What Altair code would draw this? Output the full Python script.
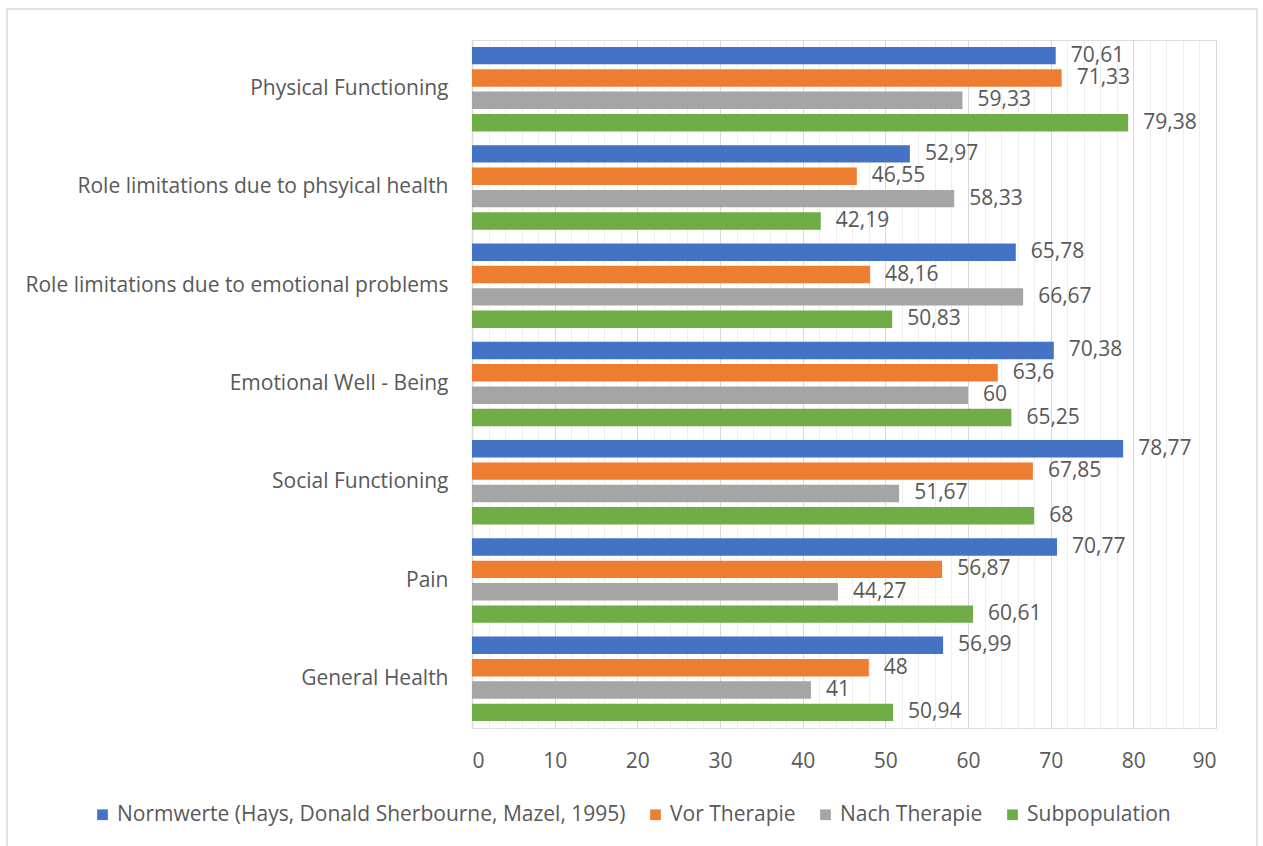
import altair as alt
import pandas as pd

categories = [
    "Physical Functioning",
    "Role limitations due to phsyical health",
    "Role limitations due to emotional problems",
    "Emotional Well - Being",
    "Social Functioning",
    "Pain",
    "General Health",
]
series = [
    "Normwerte (Hays, Donald Sherbourne, Mazel, 1995)",
    "Vor Therapie",
    "Nach Therapie",
    "Subpopulation",
]
normwerte = [70.61, 52.97, 65.78, 70.38, 78.77, 70.77, 56.99]
vor_therapie = [71.33, 46.55, 48.16, 63.6, 67.85, 56.87, 48]
nach_therapie = [59.33, 58.33, 66.67, 60, 51.67, 44.27, 41]
subpopulation = [79.38, 42.19, 50.83, 65.25, 68, 60.61, 50.94]
colors = ["#4472C4", "#ED7D31", "#A5A5A5", "#70AD47"]

rows = []
for s, vals in zip(series, [normwerte, vor_therapie, nach_therapie, subpopulation]):
    for c, v in zip(categories, vals):
        rows.append({"Kategorie": c, "Serie": s, "Wert": v,
                     "Label": f"{v:g}".replace(".", ",")})
df = pd.DataFrame(rows)

FONT = "Open Sans"
TXT = "#595959"
FS = 21

y_enc = alt.Y("Kategorie:N", sort=categories,
              scale=alt.Scale(paddingInner=0.14, paddingOuter=0.07),
              axis=alt.Axis(title=None, ticks=False, domain=True, domainColor="#D9D9D9",
                            domainWidth=1.5, labelPadding=24, labelFontSize=FS,
                            labelFont=FONT, labelColor=TXT, labelLimit=600, grid=False))
yoff_enc = alt.YOffset("Serie:N", sort=series,
                       scale=alt.Scale(paddingInner=0.22, paddingOuter=0))
x_enc = alt.X("Wert:Q", scale=alt.Scale(domain=[0, 90], nice=False),
              axis=alt.Axis(title=None, values=list(range(0, 91, 2)),
                            labelExpr="datum.value % 10 === 0 ? datum.label : ''",
                            ticks=False, domain=False, labelPadding=22,
                            labelFontSize=FS, labelFont=FONT, labelColor=TXT,
                            grid=True,
                            gridColor={"condition": {"test": "datum.value % 10 === 0", "value": "#D9D9D9"},
                                       "value": "#EEEEEE"},
                            gridWidth=1))

bars = alt.Chart(df).mark_bar().encode(
    y=y_enc, yOffset=yoff_enc, x=x_enc,
    color=alt.Color("Serie:N", sort=series,
                    scale=alt.Scale(domain=series, range=colors),
                    legend=alt.Legend(title=None, orient="none", direction="horizontal",
                                      legendX=-380, legendY=764, symbolType="square",
                                      symbolSize=115, symbolStrokeWidth=0,
                                      labelFontSize=FS, labelFont=FONT, labelColor=TXT,
                                      columnPadding=19, symbolOffset=0, labelOffset=4,
                                      labelLimit=700)),
)

labels = alt.Chart(df).mark_text(align="left", baseline="middle", dx=15,
                                 fontSize=FS, font=FONT, color=TXT).encode(
    y=y_enc, yOffset=yoff_enc, x=x_enc, text="Label:N")

border = alt.Chart(pd.DataFrame({"a": [0]})).mark_rect(
    fillOpacity=0, stroke="#D9D9D9", strokeWidth=1.5).encode(
    x=alt.value(-465), x2=alt.value(785), y=alt.value(-31), y2=alt.value(820))

chart = alt.layer(border, bars, labels).properties(
    width=744, height=688,
    autosize=alt.AutoSizeParams(type="none"),
    padding={"left": 472, "top": 40, "right": 47, "bottom": 118},
).configure_view(stroke=None).configure(background="white")

chart.save("out.html", embed_options={"renderer": "svg", "actions": False})
